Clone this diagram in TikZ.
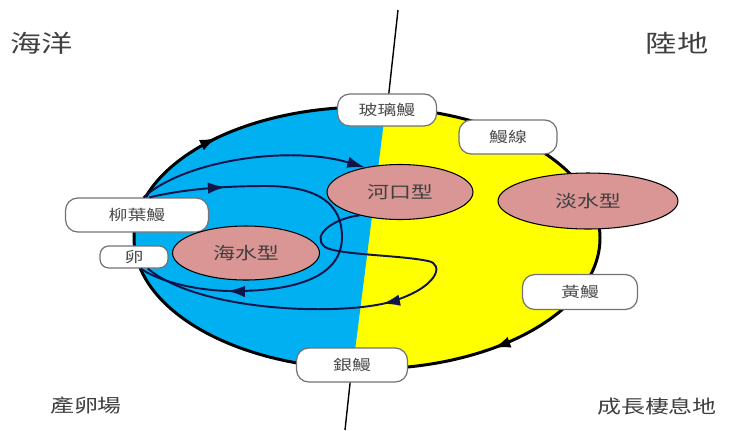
\documentclass[tikz,border=0pt]{standalone}
\usepackage{fontspec}
\setmainfont{Noto Sans CJK TC}[FakeStretch=1.3]
\usetikzlibrary{arrows.meta, shapes.geometric, decorations.markings}
\usepackage{xcolor}

\definecolor{seablue}{RGB}{0,176,240}
\definecolor{landyellow}{RGB}{255,255,0}
\definecolor{typepink}{RGB}{217,150,148}
\definecolor{flownavy}{RGB}{15,20,75}

\begin{document}
\begin{tikzpicture}[ 
x=0.02cm, y=-0.02cm, 
stage/.style={draw=black!55, 
line width=0.7pt, 
fill=white, 
rounded corners=7pt, 
minimum width=2cm, 
minimum height=0.68cm, 
inner sep=0pt, 
text=black!70, 
font=\fontsize{8.3}{10}\selectfont}, 
eeltype/.style={ellipse, 
draw=black, 
line width=0.6pt, 
fill=typepink, 
inner sep=0pt, 
text=black!75, 
font=\fontsize{9.6}{11}\selectfont}, 
side/.style={text=black!75, font=\fontsize{13.7}{16}\selectfont}, 
region/.style={text=black!75, font=\fontsize{10.5}{12}\selectfont}, 
flow/.style={color=flownavy, line width=1.1pt}, 
midarrow/.style={postaction={decorate, decoration={markings, 
mark=at position #1 with {\arrow{Latex[length=10pt,width=6.5pt]}}}}} ]

\useasboundingbox (0,0) rectangle (730,430);

% habitat ellipse, sea part on the left of the shore line
\fill[landyellow] (367,238) ellipse [x radius=233, y radius=131];
\begin{scope}
\clip (367,238) ellipse [x radius=233, y radius=131];
\fill[seablue] (0,0) -- (399.3,0) -- (345,430) -- (0,430) -- cycle;
\end{scope}
\draw[line width=1.7pt, midarrow=0.14, midarrow=0.618] (367,238) ellipse [x radius=233, y radius=131];

\node[side] (ocean) at (42,43) {海洋}; 
\node[side] (land) at (677,43) {陸地}; 
\node[region] (spawn) at (86,405) {產卵場}; 
\node[region] (growth) at (657,406) {成長棲息地};

\node[stage, minimum width=1.98cm, minimum height=0.64cm] (glass) at (387,110) {玻璃鰻}; 
\node[stage, minimum width=1.96cm] (elver) at (508,137) {鰻線}; 
\node[stage, minimum width=2.86cm] (leaf) at (137,215) {柳葉鰻}; 
\node[stage, minimum width=1.36cm, minimum height=0.44cm, rounded corners=5pt] (egg) at (134,257) {卵}; 
\node[stage, minimum width=2.22cm] (silver) at (352,365) {銀鰻}; 
\node[stage, minimum width=2.3cm, minimum height=0.7cm] (yellow) at (580,292) {黃鰻};

\node[eeltype, minimum width=2.92cm, minimum height=1.1cm] (estuary) at (400,192) {河口型}; 
\node[eeltype, minimum width=3.6cm, minimum height=1.12cm] (fresh) at (588,201) {淡水型}; 
\node[eeltype, minimum width=2.94cm, minimum height=1.08cm] (sea) at (246,253) {海水型};

% shore line
\coordinate (shoretop) at (398,10); 
\coordinate (shorebot) at (345,430); 
\draw[line width=0.8pt] (shoretop) -- (glass); 
\draw[line width=0.8pt] (silver) -- (shorebot);

% routes
\draw[flow, -{Latex[length=10pt,width=6.5pt]}] (leaf.70) .. controls (185,160) and (290,145) .. (estuary.145); 
\draw[flow, midarrow=0.17, midarrow=0.8] (leaf.55) .. controls (180,190) and (220,186) .. (265,186) .. controls (320,186) and (342,205) .. (342,237) .. controls (342,275) and (300,290) .. (240,291) .. controls (200,292) and (160,282) .. (egg.-60); 
\draw[flow, midarrow=0.5] (estuary.210) .. controls (335,218) and (310,235) .. (325,247) .. controls (338,255) and (400,255) .. (428,261) .. controls (445,264) and (438,288) .. (390,302) .. controls (340,316) and (200,312) .. (egg.-40);

\end{tikzpicture}
\end{document}
